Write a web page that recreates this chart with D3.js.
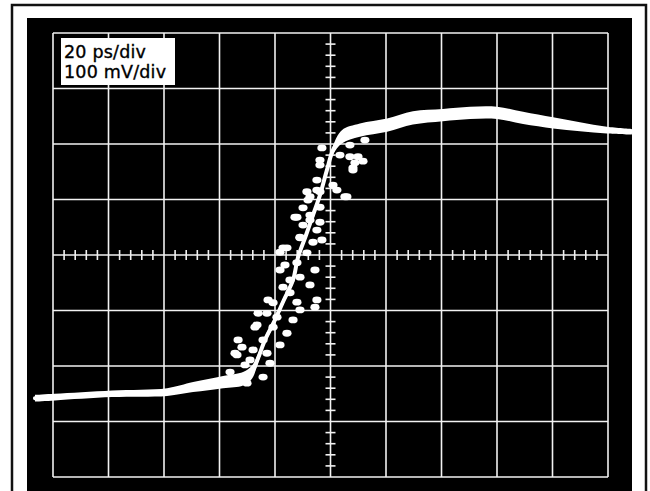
<!DOCTYPE html>
<html><head><meta charset="utf-8">
<script src="https://cdn.jsdelivr.net/npm/d3@7"></script>
<style>html,body{margin:0;padding:0;background:#fff;}svg{display:block;}</style>
</head><body>
<script>
// Sampling scope settings
const labels = ["20 ps/div", "100 mV/div"];
const timeDomain = [-100, 100];   // ps (10 div x 20 ps)
const voltDomain = [-400, 400];   // mV (8 div x 100 mV)

// Mean trace (ps, mV)
const traceTime = [-106.5,-99.3,-78.7,-58.9,-49.5,-38.7,-31.5,-28.3,-26.1,-23.6,-20.4,-16.8,-13.5,-11.7,-8.8,-6.3,-3.8,-1.3,0.9,4.1,10.6,20.4,29.7,40.5,50.3,60,69.4,80.2,89.9,99.6,108.6];
const traceVolt = [-258,-256,-250,-247,-238,-229,-223,-211,-186,-153,-121,-81,-45,-4,36,72,108,153,189,213,225,234,247,252,256,256,247,238,231,225,222];
// noise envelope half-width (mV)
const traceNoise = [6,6,6,7,9,11,12,12,8,6,6,6,6,6,6,6,6,6,8,12,12,12,12,11,11,11,11,10,8,6,5];

// Scattered samples on the edge (ps, mV)
const dotTime = [-3.1,-3.8,8.1,7.0,-4.9,0.9,-8.5,-3.8,5.9,-8.1,-9.9,-3.8,-12.8,-7.4,-3.8,-9.9,-4.9,-11.0,-6.3,-3.1,-15.7,-18.2,-18.2,-12.1,-8.5,-14.6,-11.0,-17.1,-14.6,-4.9,-5.6,-20.7,-12.1,-22.9,-19.3,-13.5,-26.5,-20.7,-15.7,-24.3,-18.2,-31.9,-33.7,-27.9,-22.9,-29.0,-21.8,-24.3,-30.1,9.9,8.1,5.2,
  8.8,11.7,-3.8,-7.4,-4.9,2.3,-12.1,-7.4,-11.0,-17.1,-22.5,-26.1,-27.2,-33.3,-34.4,-30.8,-36.2,-7.4,-5.6,-16.4,-11.0,7.0,12.4,3.4];
const dotVolt = [193,171,157,177,135,126,114,114,105,99,85,86,68,72,59,54,45,31,23,27,13,5,-27,-14,4,-45,-40,-58,-68,-81,-94,-86,-85,-105,-112,-117,-126,-130,-141,-153,-162,-166,-180,-171,-177,-189,-195,-220,-231,177,153,105,
  166,169,162,105,117,117,68,63,32,13,-81,-105,-130,-153,-177,-198,-211,-54,-27,-18,-99,198,207,180];

const W = 650, H = 491;
const svg = d3.select("body").append("svg").attr("width", W).attr("height", H);

// photo frame
svg.append("rect").attr("x",0).attr("y",0).attr("width",W).attr("height",H).attr("fill","#fff");
svg.append("path").attr("d",`M12,${H} L12,5 L646,5 L646,${H}`).attr("fill","none").attr("stroke","#111").attr("stroke-width",2.5);
svg.append("rect").attr("x",27).attr("y",18).attr("width",605).attr("height",H-18).attr("fill","#000");

const x = d3.scaleLinear().domain(timeDomain).range([53, 608]);
const y = d3.scaleLinear().domain(voltDomain).range([477, 33]);

const g = svg.append("g");
// graticule
const xMajor = d3.range(timeDomain[0], timeDomain[1] + 1, 20);
const yMajor = d3.range(voltDomain[0], voltDomain[1] + 1, 100);
g.selectAll("line.vx").data(xMajor).join("line")
  .attr("x1", d => x(d)).attr("x2", d => x(d)).attr("y1", y(voltDomain[1])).attr("y2", y(voltDomain[0]))
  .attr("stroke", "#f2f2f2").attr("stroke-width", 1.6);
g.selectAll("line.hy").data(yMajor).join("line")
  .attr("y1", d => y(d)).attr("y2", d => y(d)).attr("x1", x(timeDomain[0])).attr("x2", x(timeDomain[1]))
  .attr("stroke", "#f2f2f2").attr("stroke-width", 1.6);
// minor ticks on the centre axes
const xMinor = d3.range(timeDomain[0], timeDomain[1] + 0.1, 4).filter(d => Math.abs(d % 20) > 0.01);
const yMinor = d3.range(voltDomain[0], voltDomain[1] + 0.1, 20).filter(d => Math.abs(d % 100) > 0.01);
g.selectAll("line.mx").data(xMinor).join("line")
  .attr("x1", d => x(d)).attr("x2", d => x(d)).attr("y1", y(0) - 5).attr("y2", y(0) + 5)
  .attr("stroke", "#f2f2f2").attr("stroke-width", 1.6);
g.selectAll("line.my").data(yMinor).join("line")
  .attr("y1", d => y(d)).attr("y2", d => y(d)).attr("x1", x(0) - 5).attr("x2", x(0) + 5)
  .attr("stroke", "#f2f2f2").attr("stroke-width", 1.6);

// trace
const pts = traceTime.map((t, i) => ({t, v: traceVolt[i], n: traceNoise[i]}));
svg.append("clipPath").attr("id","scr").append("rect").attr("x",27).attr("y",18).attr("width",605).attr("height",H-18);
const tr = svg.append("g").attr("clip-path","url(#scr)");
tr.append("path").datum(pts)
  .attr("d", d3.area().x(d => x(d.t)).y0(d => y(d.v - d.n)).y1(d => y(d.v + d.n)).curve(d3.curveCatmullRom))
  .attr("fill", "#fff");
tr.append("path").datum(pts)
  .attr("d", d3.line().x(d => x(d.t)).y(d => y(d.v)).curve(d3.curveCatmullRom))
  .attr("fill", "none").attr("stroke", "#fff").attr("stroke-width", 4).attr("stroke-linecap","round");
tr.selectAll("ellipse").data(dotTime.map((t, i) => ({t, v: dotVolt[i]}))).join("ellipse")
  .attr("cx", d => x(d.t)).attr("cy", d => y(d.v)).attr("rx", 4.6).attr("ry", 3.4).attr("fill", "#fff");

// label box
const box = svg.append("g");
box.append("rect").attr("x", 61).attr("y", 38).attr("width", 114).attr("height", 47).attr("fill", "#fff");
box.selectAll("text").data(labels).join("text")
  .attr("x", 64).attr("y", (d, i) => 58 + i * 20)
  .attr("font-family", "DejaVu Sans, sans-serif").attr("font-size", 17.5).attr("letter-spacing", 0.2)
  .attr("fill", "#000").attr("stroke", "#000").attr("stroke-width", 0.35)
  .text(d => d);
</script>
</body></html>
